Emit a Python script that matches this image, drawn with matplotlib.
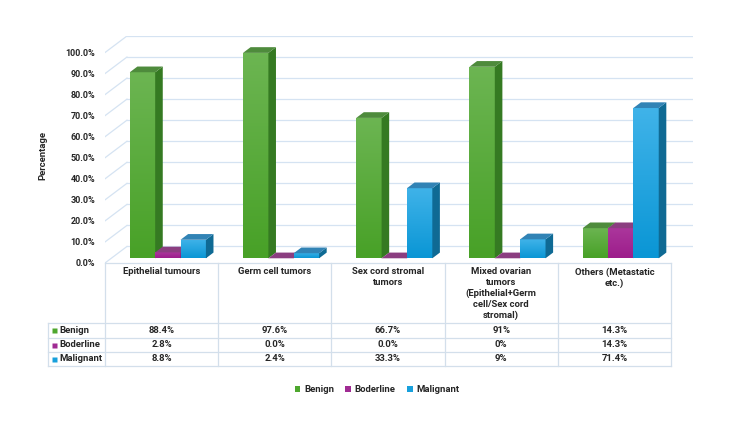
import numpy as np
import matplotlib.pyplot as plt
from matplotlib.patches import Polygon, Patch
from matplotlib.colors import LinearSegmentedColormap

# data
categories = ["Epithelial tumours", "Germ cell tumors", "Sex cord stromal\ntumors",
              "Mixed ovarian\ntumors\n(Epithelial+Germ\ncell/Sex cord\nstromal)",
              "Others (Metastatic\netc.)"]
series_names = ["Benign", "Boderline", "Malignant"]
benign = [88.4, 97.6, 66.7, 91, 14.3]
boderline = [2.8, 0.0, 0.0, 0, 14.3]
malignant = [8.8, 2.4, 33.3, 9, 71.4]
benign_txt = ["88.4%", "97.6%", "66.7%", "91%", "14.3%"]
boderline_txt = ["2.8%", "0.0%", "0.0%", "0%", "14.3%"]
malignant_txt = ["8.8%", "2.4%", "33.3%", "9%", "71.4%"]
yticks = [0, 10, 20, 30, 40, 50, 60, 70, 80, 90, 100]

series = [benign, boderline, malignant]
table_txt = [benign_txt, boderline_txt, malignant_txt]

# colours: (front top, front bottom, side, top face)
colors = [
    ("#6cb552", "#48a127", "#357a22", "#4e8b3c"),
    ("#ab379c", "#9d1d8b", "#7a2470", "#8b3e80"),
    ("#40b3e9", "#0a96d5", "#0f6a94", "#3183b5"),
]
legend_colors = ["#4ea72e", "#a02b93", "#18a0dc"]
grid_color = "#d5e3f2"
line_color = "#d3dfeb"
text_color = "#262626"

plt.rcParams['font.family'] = ['Roboto', 'DejaVu Sans']
plt.rcParams['font.weight'] = 'bold'
FS = 6.8

W, H = 750, 422
fig = plt.figure(figsize=(7.5, 4.22), dpi=100)

# fake 3D depth (in data units)
DX, DY = 0.194, 7.86
f0, fb = 0.285, 0.345
bw = 0.224
n = len(categories)

ax_left, ax_right, ax_bottom, ax_top = 105, 693, 263, 36
ax = fig.add_axes([ax_left / W, 1 - ax_bottom / H, (ax_right - ax_left) / W, (ax_bottom - ax_top) / H])
ax.set_xlim(0, n + DX)
ax.set_ylim(0, 100 + DY)
for s in ax.spines.values():
    s.set_visible(False)
ax.set_xticks([])
ax.set_yticks(yticks)
ax.set_yticklabels([f"{t:.1f}%" for t in yticks], fontsize=6.5, fontweight='bold', color=text_color)
ax.tick_params(axis='y', length=0, pad=7)

# walls and floor
for t in yticks:
    ax.plot([DX, n + DX], [t + DY, t + DY], color=grid_color, lw=0.9, zorder=0)
    ax.plot([0, DX], [t, t + DY], color=grid_color, lw=0.9, zorder=0)
ax.plot([0, n], [0, 0], color=line_color, lw=0.9, zorder=0, clip_on=False)

# bars
z = 2
for i in range(n):
    for j, vals in enumerate(series):
        v = vals[i]
        ctop, cbot, cside, ctopface = colors[j]
        x = i + 0.5 - 1.5 * bw + j * bw + f0 * DX
        base = f0 * DY
        bar = ax.bar(x, v, bw, bottom=base, align='edge', color=cbot, lw=0, zorder=z)[0]
        if v > 0:
            cmap = LinearSegmentedColormap.from_list("g", [cbot, ctop])
            grad = np.linspace(0, 1, 64).reshape(-1, 1)
            im = ax.imshow(grad, extent=[x, x + bw, base, base + v], origin='lower',
                           aspect='auto', cmap=cmap, zorder=z + 0.1)
            im.set_clip_path(bar)
        side = Polygon([(x + bw, base), (x + bw + fb * DX, base + fb * DY),
                        (x + bw + fb * DX, base + v + fb * DY), (x + bw, base + v)],
                       closed=True, fc=cside, ec='none', zorder=z + 0.2)
        top = Polygon([(x, base + v), (x + fb * DX, base + v + fb * DY),
                       (x + bw + fb * DX, base + v + fb * DY), (x + bw, base + v)],
                      closed=True, fc=ctopface, ec='none', zorder=z + 0.3)
        ax.add_patch(side)
        ax.add_patch(top)
        z += 1
ax.set_xlim(0, n + DX)
ax.set_ylim(0, 100 + DY)

fig.text(43 / W, 1 - 155 / H, "Percentage", rotation=90, ha='center', va='center',
         fontsize=FS, fontweight='bold', color=text_color)

# data table (overlay axes in pixel coords)
tab = fig.add_axes([0, 0, 1, 1])
tab.set_xlim(0, W)
tab.set_ylim(H, 0)
tab.axis('off')
cw = 113.2
col_x = [ax_left + k * cw for k in range(n + 1)]
head_top, head_bot = 263, 323
row_y = [323, 337.5, 351.5, 365.5]
lab_left = 48

for k, cx in enumerate(col_x):
    tab.plot([cx, cx], [head_top, row_y[-1]], color=line_color, lw=0.9)
tab.plot([lab_left, lab_left], [row_y[0], row_y[-1]], color=line_color, lw=0.9)
for ry in row_y:
    tab.plot([lab_left, col_x[-1]], [ry, ry], color=line_color, lw=0.9)

for i, cat in enumerate(categories):
    tab.text((col_x[i] + col_x[i + 1]) / 2, head_top + 4.5, cat, ha='center', va='top',
             fontsize=FS, fontweight='bold', color=text_color, linespacing=1.22)

for r, name in enumerate(series_names):
    cy = (row_y[r] + row_y[r + 1]) / 2
    tab.plot(lab_left + 6, cy, marker='s', ms=3.6, color=legend_colors[r], mec='none')
    tab.text(lab_left + 11, cy, name, ha='left', va='center', fontsize=FS,
             fontweight='bold', color=text_color)
    for i in range(n):
        tab.text((col_x[i] + col_x[i + 1]) / 2, cy, table_txt[r][i], ha='center', va='center',
                 fontsize=FS, fontweight='bold', color=text_color)

handles = [Patch(facecolor=c, edgecolor='none', label=s) for c, s in zip(legend_colors, series_names)]
fig.legend(handles=handles, loc='center', bbox_to_anchor=(377 / W, 1 - 390 / H), ncol=3,
           frameon=False, fontsize=FS, handlelength=0.6, handleheight=0.6,
           handletextpad=0.4, columnspacing=1.2, labelcolor=text_color)

fig.savefig("out.png", dpi=100)
